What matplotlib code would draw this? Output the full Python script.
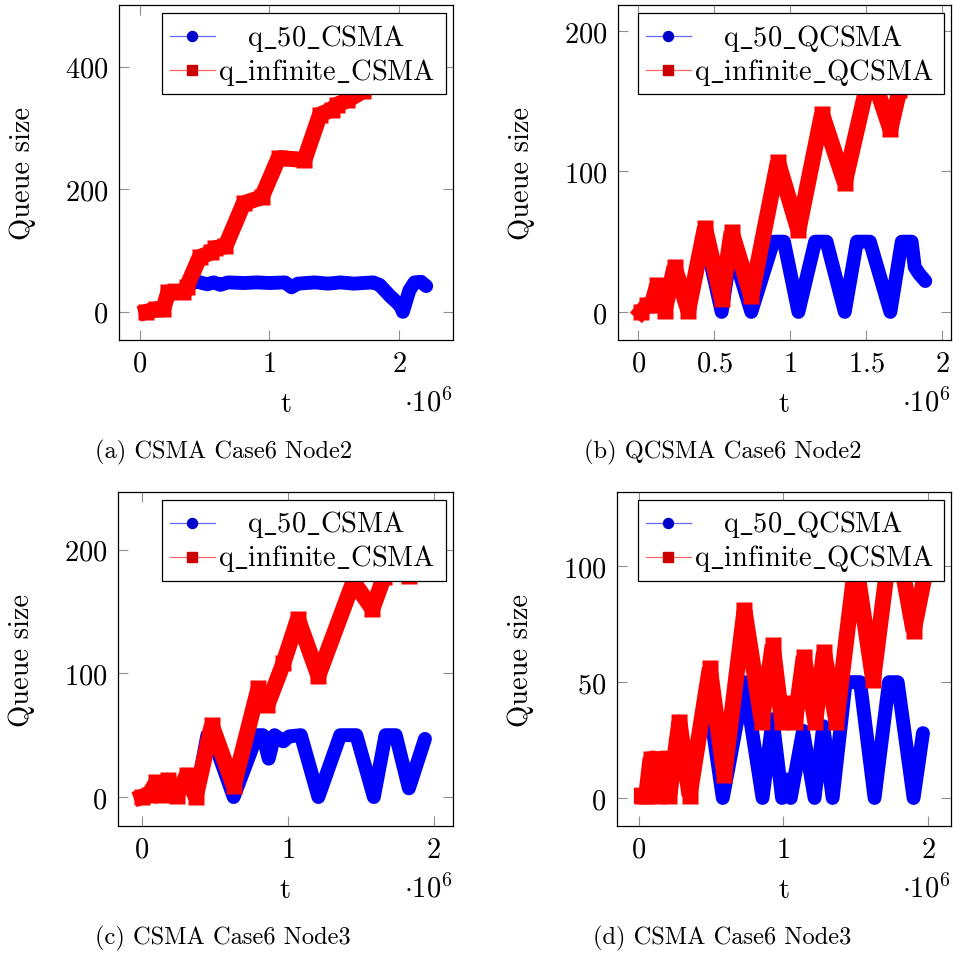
import matplotlib
matplotlib.use('Agg')
import matplotlib.pyplot as plt
from matplotlib.lines import Line2D
from matplotlib.patches import Rectangle
from matplotlib.ticker import FixedLocator, FuncFormatter

plt.rcParams['font.family'] = ['cmr10', 'DejaVu Serif']
plt.rcParams['mathtext.fontset'] = 'cm'
plt.rcParams['axes.unicode_minus'] = False
plt.rcParams['axes.formatter.use_mathtext'] = True

# ---------------- data (t in units of 10^6) ----------------
a_red_t = [0.05, 0.12, 0.18, 0.22, 0.33, 0.36, 0.46, 0.55, 0.58, 0.66, 0.80, 0.94, 1.07, 1.27,
           1.39, 1.48, 1.52, 1.60, 1.72, 1.85, 2.00, 2.20]
a_red_q = [0, 4, 5, 33, 33, 40, 89, 97, 104, 107, 177, 187, 251, 248,
           322, 330, 338, 345, 360, 390, 420, 455]
a_blue_t = [0.05, 0.12, 0.18, 0.22, 0.33, 0.36, 0.43, 0.48, 0.52, 0.57, 0.62, 0.68, 0.80, 0.90,
            1.00, 1.12, 1.17, 1.22, 1.35, 1.45, 1.55, 1.65, 1.80, 1.85, 1.93, 2.01, 2.03, 2.08,
            2.12, 2.17, 2.21]
a_blue_q = [0, 4, 5, 33, 33, 40, 50, 47, 45, 48, 44, 48, 47, 48,
            47, 48, 40, 46, 48, 46, 48, 46, 48, 44, 26, 10, 0, 35,
            48, 49, 42]

b_red_t = [0.02, 0.06, 0.09, 0.125, 0.175, 0.24, 0.33, 0.44, 0.55, 0.615, 0.745, 0.92, 1.055,
           1.21, 1.36, 1.53, 1.66, 1.72, 1.88]
b_red_q = [0, 5, 5, 19, 1, 32, 1, 60, 9, 57, 11, 107, 58,
           141, 92, 172, 130, 158, 199]
b_blue_t = [0.02, 0.06, 0.09, 0.125, 0.175, 0.24, 0.33, 0.42, 0.45, 0.55, 0.615, 0.745, 0.89,
            0.96, 1.055, 1.165, 1.24, 1.36, 1.44, 1.525, 1.66, 1.735, 1.80, 1.82, 1.85, 1.89]
b_blue_q = [0, 5, 5, 19, 1, 32, 1, 50, 48, 0, 46, 0, 50,
            50, 0, 50, 50, 0, 50, 50, 0, 50, 50, 32, 27, 22]

c_red_t = [0.0, 0.05, 0.10, 0.14, 0.18, 0.24, 0.31, 0.37, 0.48, 0.63, 0.80, 0.86, 0.97, 1.07,
           1.21, 1.45, 1.58, 1.66, 1.73, 1.83, 1.95]
c_red_q = [0, 2, 12, 2, 14, 1, 18, 0, 58, 9, 88, 74, 108, 144,
           98, 174, 152, 178, 200, 179, 225]
c_blue_t = [0.0, 0.05, 0.10, 0.14, 0.18, 0.24, 0.31, 0.37, 0.45, 0.48, 0.63, 0.79, 0.83, 0.87,
            0.91, 0.97, 1.01, 1.09, 1.21, 1.36, 1.47, 1.59, 1.67, 1.74, 1.83, 1.94]
c_blue_q = [0, 2, 12, 2, 14, 1, 18, 0, 50, 50, 0, 50, 50, 31,
            50, 45, 49, 50, 0, 50, 50, 0, 50, 50, 7, 47]

d_red_t = [0.02, 0.05, 0.08, 0.11, 0.13, 0.15, 0.19, 0.21, 0.28, 0.35, 0.49, 0.59, 0.73, 0.85,
           0.925, 0.99, 1.055, 1.08, 1.14, 1.22, 1.28, 1.366, 1.50, 1.62, 1.76, 1.90, 1.99]
d_red_q = [1, 1, 17, 17, 1, 17, 17, 1, 33, 1, 56, 10, 81, 33,
           66, 33, 41, 33, 61, 33, 63, 33, 102, 51, 120, 72, 100]
d_blue_t = [0.02, 0.05, 0.08, 0.11, 0.13, 0.15, 0.19, 0.21, 0.28, 0.35, 0.47, 0.58, 0.73, 0.855,
            0.925, 0.99, 1.02, 1.05, 1.135, 1.215, 1.275, 1.34, 1.43, 1.53, 1.63, 1.73, 1.79,
            1.90, 1.965]
d_blue_q = [1, 1, 17, 17, 1, 17, 17, 1, 33, 1, 47, 0, 50, 0,
            34, 0, 8, 0, 29, 0, 31, 0, 50, 50, 0, 50, 50,
            0, 28]

a_xticks = [0, 1, 2]
a_yticks = [0, 200, 400]
b_xticks = [0, 0.5, 1, 1.5, 2]
b_yticks = [0, 100, 200]
c_xticks = [0, 1, 2]
c_yticks = [0, 100, 200]
d_xticks = [0, 1, 2]
d_yticks = [0, 50, 100]

a_labels = [r'$\mathrm{q\_50\_CSMA}$', r'$\mathrm{q\_infinite\_CSMA}$']
b_labels = [r'$\mathrm{q\_50\_QCSMA}$', r'$\mathrm{q\_infinite\_QCSMA}$']
c_labels = [r'$\mathrm{q\_50\_CSMA}$', r'$\mathrm{q\_infinite\_CSMA}$']
d_labels = [r'$\mathrm{q\_50\_QCSMA}$', r'$\mathrm{q\_infinite\_QCSMA}$']

captions = ['(a) CSMA Case6 Node2', '(b) QCSMA Case6 Node2',
            '(c) CSMA Case6 Node3', '(d) CSMA Case6 Node3']
ylabel = 'Queue size'
xlabel = 't'
xscale_label = r'$\cdot10^{6}$'

# ---------------- layout ----------------
W = H = 954
fig = plt.figure(figsize=(W / 100, H / 100), dpi=100)

FS = 20.5
CAP_FS = 17.6
LW_B = 10.0
LW_R = 11.5
MS_R = 11.0
BLUE = '#0000ff'
RED = '#ff0000'


def px(x, y):
    return x / W, 1 - y / H


panels = [
    dict(box=(119, 6, 453, 341), xlim=(-0.162, 2.417), ylim=(-46, 500.8),
         rt=a_red_t, rq=a_red_q, bt=a_blue_t, bq=a_blue_q,
         xt=a_xticks, yt=a_yticks, labels=a_labels, cap=captions[0]),
    dict(box=(618, 6, 951, 341), xlim=(-0.132, 2.059), ylim=(-20, 218.5),
         rt=b_red_t, rq=b_red_q, bt=b_blue_t, bq=b_blue_q,
         xt=b_xticks, yt=b_yticks, labels=b_labels, cap=captions[1]),
    dict(box=(118, 493, 453, 827), xlim=(-0.162, 2.132), ylim=(-23.4, 246.5),
         rt=c_red_t, rq=c_red_q, bt=c_blue_t, bq=c_blue_q,
         xt=c_xticks, yt=c_yticks, labels=c_labels, cap=captions[2]),
    dict(box=(617, 493, 951, 827), xlim=(-0.152, 2.159), ylim=(-12.1, 132.1),
         rt=d_red_t, rq=d_red_q, bt=d_blue_t, bq=d_blue_q,
         xt=d_xticks, yt=d_yticks, labels=d_labels, cap=captions[3]),
]

renderer = fig.canvas.get_renderer()

for p in panels:
    l, t, r, b = p['box']
    ax = fig.add_axes([l / W, 1 - b / H, (r - l) / W, (b - t) / H])
    ax.set_xlim(*p['xlim'])
    ax.set_ylim(*p['ylim'])

    ax.plot(p['bt'], p['bq'], color=BLUE, lw=LW_B, solid_joinstyle='round',
            solid_capstyle='round', zorder=2)
    ax.plot(p['rt'], p['rq'], color=RED, lw=LW_R, solid_joinstyle='bevel',
            solid_capstyle='projecting', marker='s', ms=MS_R, mfc=RED, mec='none',
            zorder=3)

    ax.xaxis.set_major_locator(FixedLocator(p['xt']))
    ax.yaxis.set_major_locator(FixedLocator(p['yt']))
    ax.xaxis.set_major_formatter(FuncFormatter(lambda v, pos: '$%g$' % v))
    ax.yaxis.set_major_formatter(FuncFormatter(lambda v, pos: '$%g$' % v))
    ax.tick_params(direction='in', length=7.2, width=0.8, color='#909090',
                   top=True, right=True, labelsize=FS)
    ax.tick_params(axis='x', pad=7.5)
    ax.tick_params(axis='y', pad=7.5)
    for s in ax.spines.values():
        s.set_linewidth(0.9)
        s.set_color('black')

    # axis labels
    fig.text(*px(l - 96, (t + b) / 2), ylabel, rotation=90, ha='center', va='center',
             fontsize=FS)
    fig.text(*px((l + r) / 2, b + 71), xlabel, ha='center', va='baseline', fontsize=FS)
    fig.text(*px(r, b + 71), xscale_label, ha='right', va='baseline', fontsize=FS)
    fig.text(*px(l + 105, b + 117), p['cap'], ha='center', va='baseline', fontsize=CAP_FS)

    # legend (pgfplots style: centered entries)
    widths = []
    for lab in p['labels']:
        tt = fig.text(0, 0, lab, fontsize=FS)
        widths.append(tt.get_window_extent(renderer).width)
        tt.remove()
    maxw = max(widths)
    box_w = 56 + maxw + 11
    box_r = r - 7
    box_l = box_r - box_w
    box_t = t + 8
    box_h = 81
    x0, y0 = px(box_l, box_t + box_h)
    rect = Rectangle((x0, y0), box_w / W, box_h / H, transform=fig.transFigure,
                     facecolor='white', edgecolor='black', lw=0.9, zorder=10)
    fig.patches.append(rect)
    rows = [(BLUE, '#0000cc', 'o', 7.2), (RED, '#cc0000', 's', 6.6)]
    for i, (lab, (lc, mc, mk, ms)) in enumerate(zip(p['labels'], rows)):
        yy = box_t + 23 + 34 * i
        xa, ya = px(box_l + 8, yy)
        xb, _ = px(box_l + 53, yy)
        fig.lines.append(Line2D([xa, xb], [ya, ya], transform=fig.transFigure,
                                color=lc, lw=0.9, alpha=0.6, zorder=11))
        xm, _ = px(box_l + 30.5, yy)
        fig.lines.append(Line2D([xm], [ya], transform=fig.transFigure, marker=mk,
                                ms=ms, mfc=mc, mec=mc, lw=0, zorder=12))
        fig.text(*px(box_l + 56 + maxw / 2, yy + 8.5), lab, ha='center', va='baseline',
                 fontsize=FS, zorder=12)

fig.savefig('out.png', dpi=100)
